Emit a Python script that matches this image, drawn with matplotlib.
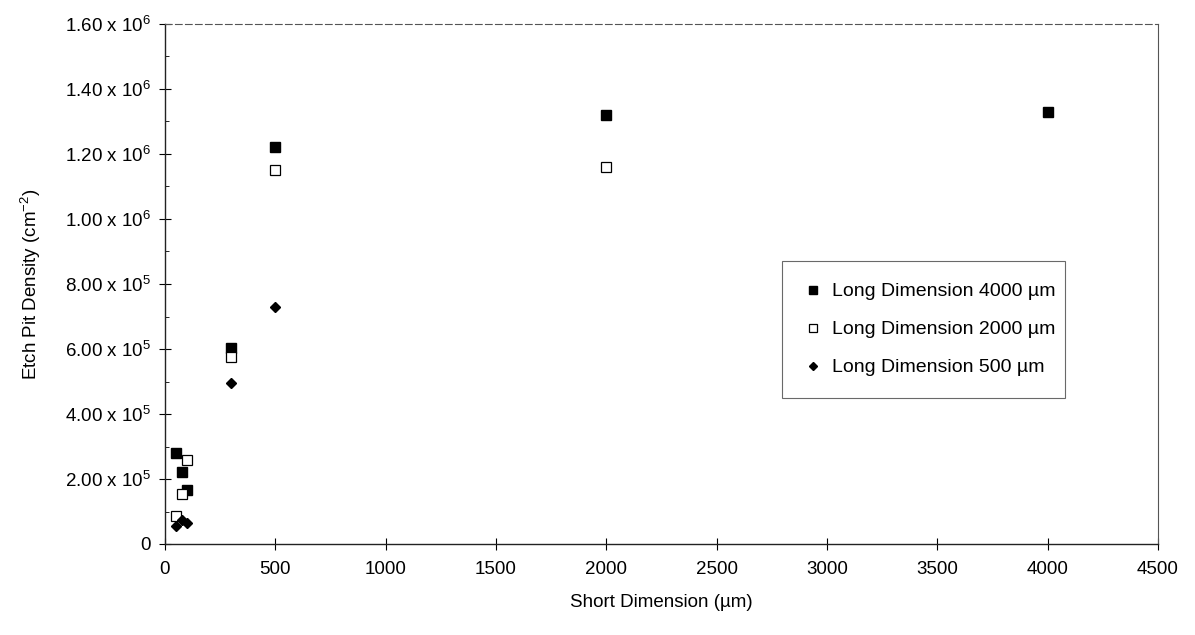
import matplotlib
matplotlib.use("Agg")
import matplotlib.pyplot as plt
from matplotlib.ticker import FixedLocator, MultipleLocator

plt.rcParams["font.family"] = ["Liberation Sans", "DejaVu Sans"]
plt.rcParams["mathtext.fontset"] = "custom"
plt.rcParams["mathtext.rm"] = "Liberation Sans"
plt.rcParams["mathtext.it"] = "Liberation Sans:italic"
plt.rcParams["mathtext.bf"] = "Liberation Sans:bold"

# short dimension (um) vs etch pit density (cm^-2), one series per long dimension
x_4000 = [50, 75, 100, 300, 500, 2000, 4000]
y_4000 = [2.81e5, 2.21e5, 1.67e5, 6.03e5, 1.22e6, 1.32e6, 1.33e6]

x_2000 = [50, 75, 100, 300, 500, 2000]
y_2000 = [0.85e5, 1.55e5, 2.59e5, 5.74e5, 1.15e6, 1.16e6]

x_500 = [50, 75, 100, 300, 500]
y_500 = [0.55e5, 0.75e5, 0.65e5, 4.96e5, 7.28e5]

x_ticks = [0, 500, 1000, 1500, 2000, 2500, 3000, 3500, 4000, 4500]
y_ticks = [0, 2e5, 4e5, 6e5, 8e5, 1e6, 1.2e6, 1.4e6, 1.6e6]
y_ticklabels = ["0",
                "2.00 x 10$^{5}$", "4.00 x 10$^{5}$", "6.00 x 10$^{5}$", "8.00 x 10$^{5}$",
                "1.00 x 10$^{6}$", "1.20 x 10$^{6}$", "1.40 x 10$^{6}$", "1.60 x 10$^{6}$"]

fig = plt.figure(figsize=(11.95, 6.35), dpi=100)
ax = fig.add_axes([165 / 1195, 1 - 544 / 635, (1158 - 165) / 1195, (544 - 24) / 635])

ax.plot(x_4000, y_4000, linestyle="none", marker="s", ms=7.5, mfc="black", mec="black",
        label="Long Dimension 4000 \u00b5m")
ax.plot(x_2000, y_2000, linestyle="none", marker="s", ms=7.5, mfc="white", mec="black", mew=0.9,
        label="Long Dimension 2000 \u00b5m")
ax.plot(x_500, y_500, linestyle="none", marker="D", ms=5.5, mfc="black", mec="black",
        label="Long Dimension 500 \u00b5m")

ax.set_xlim(0, 4500)
ax.set_ylim(0, 1.6e6)
ax.xaxis.set_major_locator(FixedLocator(x_ticks))
ax.set_xticklabels([str(t) for t in x_ticks])
ax.yaxis.set_major_locator(FixedLocator(y_ticks))
ax.set_yticklabels(y_ticklabels)
ax.yaxis.set_minor_locator(MultipleLocator(1e5))

ax.tick_params(axis="both", which="major", direction="inout", length=8, width=0.8,
               labelsize=13.5, colors="black")
ax.tick_params(axis="y", which="major", pad=6)
ax.tick_params(axis="x", which="major", pad=8)
ax.tick_params(axis="y", which="minor", direction="in", length=3, width=0.6)

for side in ["left", "bottom"]:
    ax.spines[side].set_linewidth(1.0)
    ax.spines[side].set_color("#222222")
for side in ["top", "right"]:
    ax.spines[side].set_linewidth(0.8)
    ax.spines[side].set_color("#555555")
ax.spines["top"].set_linestyle((0, (6, 3)))

ax.set_xlabel("Short Dimension (\u00b5m)", fontsize=13.5, labelpad=12)
ax.set_ylabel("Etch Pit Density (cm$^{-2}$)", fontsize=13.5, labelpad=16)

leg = ax.legend(loc="lower left", bbox_to_anchor=(0.621, 0.281, 0.285, 0.257), mode="expand",
                fontsize=14, frameon=True, fancybox=False, borderpad=1.1,
                labelspacing=1.05, handletextpad=0.5, handlelength=1.0, markerscale=0.8,
                borderaxespad=0)
leg.get_frame().set_edgecolor("#444444")
leg.get_frame().set_linewidth(0.8)

fig.savefig("out.png", dpi=100)
